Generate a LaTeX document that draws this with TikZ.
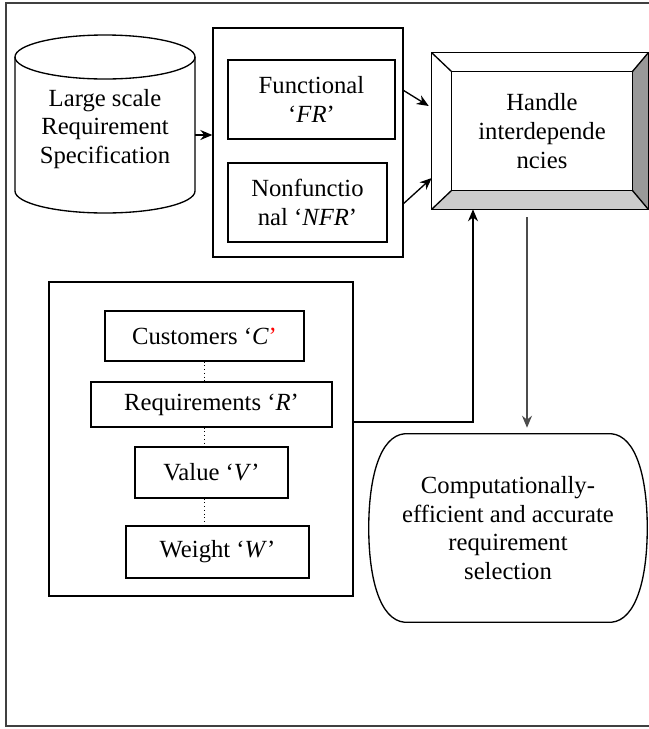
\documentclass[tikz,border=0pt]{standalone}
\usepackage{fontspec}
\setmainfont{Liberation Serif}
\usetikzlibrary{arrows.meta,calc}

\begin{document}
\begin{tikzpicture}[x=0.75pt,y=-0.75pt,
    >={Stealth[length=9pt,width=7.5pt]},
    every node/.style={font=\rmfamily\fontsize{18.5}{21.5}\selectfont, align=center},
    box/.style={draw, line width=1pt, inner sep=0pt},
    line/.style={line width=1pt}]

    \clip (0,0) rectangle (649,729);
    % outer frame, its right edge runs off the page
    \draw[line width=1.3pt, black!75] (6,3) rectangle (680,726);

    % requirement store
    \draw[line] (15,57) -- (15,191) arc[start angle=180, end angle=0, x radius=90, y radius=22] -- (195,57);
    \draw[line] (105,57) ellipse [x radius=90, y radius=22];
    \node[minimum width=135pt] (lrs) at (105,129) {Large scale\\Requirement\\Specification};

    % FR / NFR
    \node[box, minimum width=142.5pt, minimum height=171.75pt] (grp) at (308,142.5) {};
    \node[box, minimum width=125.25pt, minimum height=59.25pt] (fr) at (311.5,99.5) {Functional\\‘\textit{FR}’};
    \node[box, minimum width=119.25pt, minimum height=59.25pt] (nfr) at (307.5,202.5) {Nonfunctio\\nal ‘\textit{NFR}’};

    % bevelled box
    \node[inner sep=0pt, minimum width=162pt, minimum height=117pt] (hdlout) at (540,131) {};
    \node[inner sep=0pt, minimum width=135pt, minimum height=88.5pt] (hdl) at (542,131) {Handle\\interdepende\\ncies};
    \fill[black!40] (hdl.north east) -- (hdlout.north east) -- (hdlout.south east) -- (hdl.south east) -- cycle;
    \fill[black!20] (hdl.south west) -- (hdl.south east) -- (hdlout.south east) -- (hdlout.south west) -- cycle;
    \draw[line] (hdlout.north west) rectangle (hdlout.south east);
    \draw[line] (hdl.north west) rectangle (hdl.south east);
    \draw[line] (hdlout.north west) -- (hdl.north west) (hdlout.north east) -- (hdl.north east)
        (hdlout.south west) -- (hdl.south west) (hdlout.south east) -- (hdl.south east);

    % C, R, V, W
    \node[box, minimum width=228pt, minimum height=235.5pt] (blgrp) at (201,439) {};
    \node[box, minimum width=149.25pt, minimum height=37.5pt] (cust) at (204.5,336) {Customers ‘\textit{C}\textcolor{red}{’}};
    \node[box, minimum width=180.75pt, minimum height=33.75pt] (req) at (211.5,404.5) {Requirements ‘\textit{R}’};
    \node[box, minimum width=114.75pt, minimum height=38.25pt] (val) at (211.5,472.5) {Value ‘\textit{V}’};
    \node[box, minimum width=137.25pt, minimum height=39pt] (wgt) at (217.5,552) {Weight ‘\textit{W}’};
    \foreach \a/\b in {cust/req, req/val, val/wgt}
        \draw[dotted, line width=0.8pt] (\a.south -| cust.south) -- (\b.north -| cust.south);

    % selection
    \node[inner sep=0pt, minimum width=208.5pt, minimum height=141pt] (sel) at (508,528) {Computationally-\\efficient and accurate\\requirement\\selection};
    \draw[line] ($(sel.north west)+(36,0)$) -- ($(sel.north east)+(-36,0)$)
        .. controls +(25,2) and +(0,-50) .. (sel.east)
        .. controls +(0,50) and +(25,-2) .. ($(sel.south east)+(-36,0)$)
        -- ($(sel.south west)+(36,0)$)
        .. controls +(-25,-2) and +(0,50) .. (sel.west)
        .. controls +(0,-50) and +(-25,2) .. ($(sel.north west)+(36,0)$) -- cycle;

    % connectors
    \draw[line,->] ($(lrs.east)+(0,6)$) coordinate (s1) -- (s1 -| grp.west);
    \draw[line,->] ($(grp.east)+(0,-52)$) -- ($(hdlout.west)+(-3,-25)$);
    \draw[line,->] ($(grp.east)+(0,61)$) -- ($(hdlout.west)+(0,47)$);
    \draw[line,->] ($(blgrp.east)+(0,-17)$) -| ($(hdlout.south)+(-67,0)$);
    \draw[line, black!70, ->] ($(hdlout.south)+(-13,8)$) coordinate (dn) -- ($(dn |- sel.north)+(0,-6)$);

\end{tikzpicture}
\end{document}
